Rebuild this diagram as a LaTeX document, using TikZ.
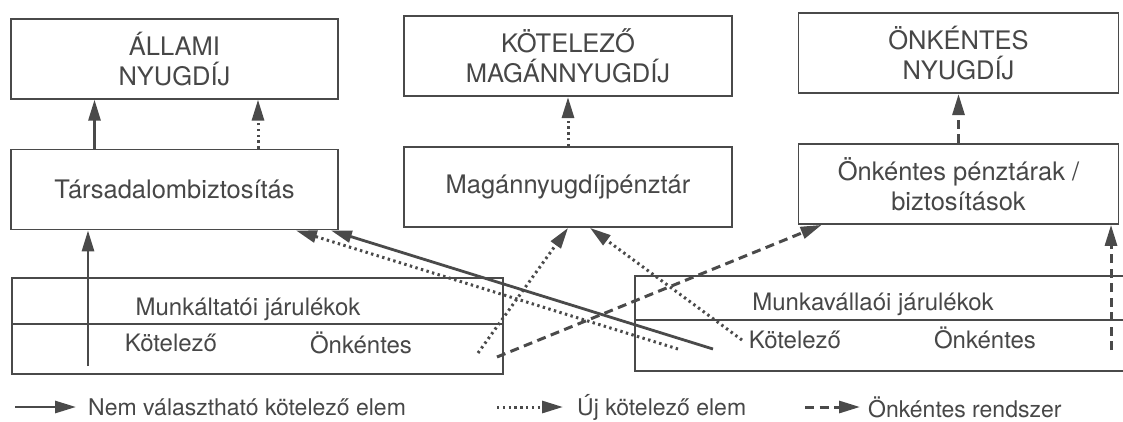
\documentclass[tikz,border=0pt]{standalone}
\usepackage{fontspec}
\setmainfont{TeX Gyre Heros}
\usetikzlibrary{arrows.meta,positioning,calc}
\definecolor{inkgray}{HTML}{4A4A4A}
\definecolor{txtgray}{HTML}{474747}

\begin{document}
\begin{tikzpicture}[
    x=1pt,y=-1pt,
    box/.style={rectangle,draw=inkgray,line width=1.8pt,minimum width=327pt,minimum height=80pt,align=center,text=txtgray,font=\fontsize{25.5}{30}\selectfont},
    frame/.style={rectangle,draw=inkgray,line width=1.8pt,minimum width=491pt,minimum height=96pt},
    lbl/.style={text=txtgray,font=\fontsize{24}{28}\selectfont,inner sep=0pt},
    leglbl/.style={lbl,font=\fontsize{23}{26}\selectfont,anchor=west},
    tip/.style={-{Triangle[length=21pt,width=12pt]}},
    solidarr/.style={draw=inkgray,line width=2.8pt,tip},
    dotarr/.style={draw=inkgray,line width=3pt,dash pattern=on 2.4pt off 3.4pt,tip},
    dasharr/.style={draw=inkgray,line width=3pt,dash pattern=on 9pt off 5.5pt,tip}
]
    \path[use as bounding box,fill=white] (0,0) rectangle (1123,421);

    % middle row
    \node[box] (tb) at (174.5,189.5) {Társadalombiztosítás};
    \node[box,minimum width=328pt] (mp) at (568,187) {Magánnyugdíjpénztár};
    \node[box,minimum width=320pt] (op) at (958.5,184) {Önkéntes pénztárak /\\biztosítások};

    % top row
    \node[box,above=49pt of tb] (allami) {ÁLLAMI\\NYUGDÍJ};
    \node[box,minimum width=328pt,above=49pt of mp] (kotel) {KÖTELEZŐ\\MAGÁNNYUGDÍJ};
    \node[box,minimum width=320pt,above=49pt of op] (onk) {ÖNKÉNTES\\NYUGDÍJ};

    % contributions
    \node[frame] (mlt) at (257.5,326) {};
    \node[frame,minimum width=490pt,minimum height=95pt] (mvl) at (880,323.5) {};
    \draw[inkgray,line width=1.5pt] ([yshift=2pt]mlt.west) -- ([yshift=2pt]mlt.east);
    \draw[inkgray,line width=1.5pt] ([yshift=3.5pt]mvl.west) -- ([yshift=3.5pt]mvl.east);

    \node[lbl] (mltcim) at (248,309) {Munkáltatói járulékok};
    \node[lbl] (mltkot) at (171,343) {Kötelező};
    \node[lbl] (mltonk) at (361,343) {Önkéntes};
    \node[lbl] (mvlcim) at (873,304) {Munkavállaói járulékok};
    \node[lbl] (mvlkot) at (795,340) {Kötelező};
    \node[lbl] (mvlonk) at (985,338) {Önkéntes};

    \coordinate (a1) at (88,366);
    \coordinate (a2) at (713,349);
    \coordinate (a3) at (678,349);
    \coordinate (a4) at (478,353);
    \coordinate (a5) at (742,340);
    \coordinate (a6) at (497,357);
    \coordinate (a7) at (1111,350);

    % upward links
    \draw[solidarr] ([xshift=-80pt]tb.north) -- ([xshift=-80pt]allami.south);
    \draw[dotarr] ([xshift=83.5pt]tb.north) -- ([xshift=83.5pt]allami.south);
    \draw[dotarr] (mp.north) -- (kotel.south);
    \draw[dasharr] (op.north) -- (onk.south);

    \draw[solidarr] (a1) -- (a1 |- tb.south);
    \draw[solidarr] (a2) -- ([xshift=-8pt]tb.south east);
    \draw[dotarr] (a3) -- ([xshift=-43pt]tb.south east);
    \draw[dotarr] (a4) -- (mp.south);
    \draw[dotarr] (a5) -- ([xshift=22pt]mp.south);
    \draw[dasharr] (a6) -- ([xshift=24pt]op.south west);
    \draw[dasharr] (a7) -- (a7 |- op.south);

    % legend
    \node[leglbl] (leg1) at (88,407) {Nem választható kötelező elem};
    \node[leglbl] (leg2) at (577,407) {Új kötelező elem};
    \node[leglbl] (leg3) at (868,407) {Önkéntes rendszer};
    \coordinate (l1) at (15,407);
    \coordinate (l2) at (497,407);
    \coordinate (l3) at (805,407);
    \draw[solidarr] (l1) -- ([xshift=-12pt]leg1.west);
    \draw[dotarr] (l2) -- ([xshift=-14pt]leg2.west);
    \draw[dasharr] (l3) -- ([xshift=-8pt]leg3.west);
\end{tikzpicture}
\end{document}
